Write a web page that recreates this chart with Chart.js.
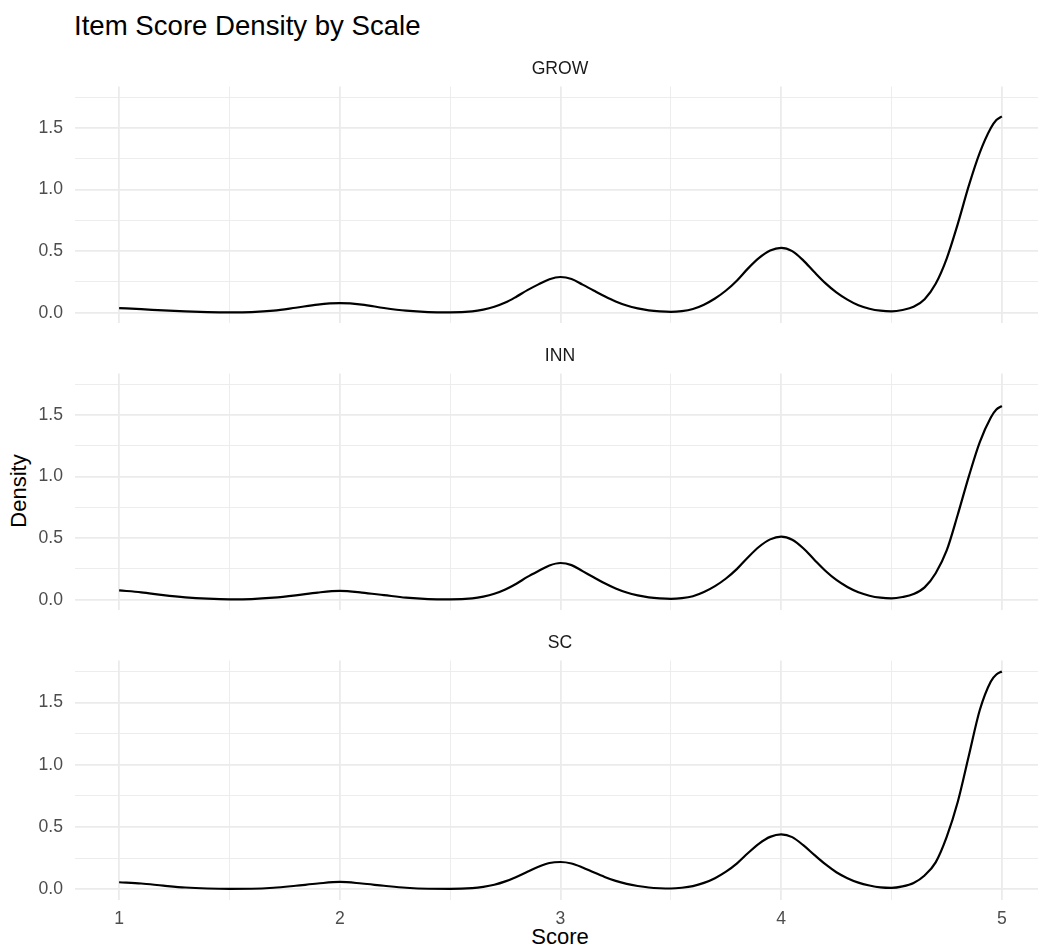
<!DOCTYPE html>
<html>
<head>
<meta charset="utf-8">
<title>Item Score Density by Scale</title>
<script src="https://cdn.jsdelivr.net/npm/chart.js@4.4.1/dist/chart.umd.min.js"></script>
<style>
  html, body { margin: 0; padding: 0; background: #ffffff; }
  #page {
    position: relative; width: 1038px; height: 951px; overflow: hidden;
    background: #ffffff; font-family: "Liberation Sans", Arial, sans-serif;
  }
  canvas.panel { position: absolute; left: 0; }
  .txt { position: absolute; line-height: 1; white-space: nowrap; }
  #title { left: 74px; top: 12px; font-size: 27.6px; color: #000000; }
  .strip { font-size: 17.6px; color: #1a1a1a; transform: translateX(-50%); }
  #xtitle { left: 560px; top: 926px; font-size: 22px; color: #000000; transform: translateX(-50%); }
  #ytitle {
    left: 19px; top: 491px; font-size: 22px; color: #000000;
    transform: translate(-50%, -50%) rotate(-90deg);
  }
</style>
</head>
<body>
<div id="page">
  <div id="title" class="txt">Item Score Density by Scale</div>
  <div id="xtitle" class="txt">Score</div>
  <div id="ytitle" class="txt">Density</div>
</div>
<script>
// Score grid the densities are evaluated on (finer where the curves bend)
const scores = [
  1.0, 1.1, 1.2, 1.3, 1.4, 1.5, 1.6, 1.7, 1.8, 1.9, 2.0, 2.1, 2.2, 2.3, 2.4, 2.5, 2.6,
  2.65, 2.7, 2.75, 2.8, 2.85, 2.9, 2.95, 3.0, 3.05, 3.1, 3.15, 3.2, 3.25, 3.3, 3.35, 3.4,
  3.45, 3.5, 3.55, 3.6, 3.65, 3.7, 3.75, 3.8, 3.85, 3.9, 3.95, 4.0, 4.05, 4.1, 4.15, 4.2,
  4.25, 4.3, 4.35, 4.4, 4.45, 4.5, 4.55, 4.6, 4.65, 4.7, 4.75, 4.8, 4.85, 4.9, 4.95, 4.975, 5.0
];

// Kernel density of item scores, one series per scale
const growDensity = [
  0.037, 0.029, 0.018, 0.010, 0.005, 0.003, 0.005, 0.016, 0.040, 0.066, 0.077, 0.066, 0.038, 0.016, 0.005, 0.003, 0.011,
  0.025, 0.048, 0.082, 0.130, 0.183, 0.230, 0.272, 0.290, 0.274, 0.228, 0.180, 0.133, 0.091, 0.058, 0.035, 0.019,
  0.010, 0.006, 0.012, 0.030, 0.065, 0.115, 0.180, 0.262, 0.360, 0.445, 0.505, 0.527, 0.500, 0.425, 0.330, 0.240,
  0.165, 0.106, 0.060, 0.032, 0.016, 0.011, 0.022, 0.048, 0.110, 0.235, 0.440, 0.720, 1.030, 1.300, 1.500, 1.565, 1.595
];
const innDensity = [
  0.075, 0.060, 0.037, 0.019, 0.008, 0.003, 0.005, 0.016, 0.035, 0.058, 0.071, 0.058, 0.037, 0.016, 0.005, 0.003, 0.011,
  0.025, 0.048, 0.083, 0.130, 0.185, 0.233, 0.278, 0.298, 0.281, 0.232, 0.182, 0.133, 0.091, 0.058, 0.035, 0.019,
  0.010, 0.006, 0.012, 0.028, 0.062, 0.110, 0.172, 0.250, 0.345, 0.430, 0.490, 0.513, 0.487, 0.418, 0.325, 0.235,
  0.160, 0.103, 0.060, 0.032, 0.016, 0.011, 0.022, 0.046, 0.100, 0.215, 0.400, 0.690, 1.000, 1.280, 1.480, 1.545, 1.574
];
const scDensity = [
  0.055, 0.045, 0.028, 0.013, 0.005, 0.002, 0.003, 0.011, 0.027, 0.045, 0.058, 0.045, 0.027, 0.011, 0.003, 0.002, 0.008,
  0.018, 0.035, 0.062, 0.098, 0.140, 0.180, 0.210, 0.218, 0.206, 0.174, 0.135, 0.098, 0.066, 0.042, 0.025, 0.013,
  0.007, 0.005, 0.011, 0.024, 0.050, 0.088, 0.140, 0.207, 0.290, 0.366, 0.420, 0.440, 0.418, 0.353, 0.275, 0.200,
  0.136, 0.088, 0.052, 0.029, 0.014, 0.010, 0.022, 0.050, 0.110, 0.215, 0.420, 0.700, 1.070, 1.440, 1.670, 1.725, 1.750
];

const scaleNames = ['GROW', 'INN', 'SC'];
const scaleSeries = [growDensity, innDensity, scDensity];

// Axis breaks: majors carry labels, halves/quarters are minor grid lines
const xBreaks = [1, 1.5, 2, 2.5, 3, 3.5, 4, 4.5, 5];
const yBreaks = [0, 0.25, 0.5, 0.75, 1, 1.25, 1.5, 1.75];
const xLimits = [0.8, 5.2];
const yLimits = [-0.0875, 1.8375];

// Panel geometry (pixels)
const PANEL_TOPS = [84, 371, 658];
const PANEL_H = 242;
const PAD = 20;
const AXIS_W = 75;
const XAXIS_H = 40;
const CANVAS_W = 1046;

const GRID = '#ebebeb';
const isMajor = (v, step) => Math.abs(v / step - Math.round(v / step)) < 1e-9;

const page = document.getElementById('page');

scaleNames.forEach((name, i) => {
  const showX = i === scaleNames.length - 1;
  const canvas = document.createElement('canvas');
  canvas.className = 'panel';
  const h = PAD + PANEL_H + (showX ? XAXIS_H : PAD);
  canvas.width = CANVAS_W;
  canvas.height = h;
  canvas.style.width = CANVAS_W + 'px';
  canvas.style.height = h + 'px';
  canvas.style.top = (PANEL_TOPS[i] - PAD) + 'px';
  page.appendChild(canvas);

  // facet strip label
  const strip = document.createElement('div');
  strip.className = 'txt strip';
  strip.textContent = name;
  strip.style.left = '560px';
  strip.style.top = (PANEL_TOPS[i] - 24) + 'px';
  page.appendChild(strip);

  const points = scores.map((s, k) => ({ x: s, y: scaleSeries[i][k] }));

  new Chart(canvas, {
    type: 'line',
    data: {
      datasets: [{
        label: name,
        data: points,
        borderColor: '#000000',
        borderWidth: 2.2,
        pointRadius: 0,
        pointHoverRadius: 0,
        fill: false,
        cubicInterpolationMode: 'monotone'
      }]
    },
    options: {
      responsive: false,
      maintainAspectRatio: false,
      animation: false,
      devicePixelRatio: 1,
      events: [],
      layout: { padding: { top: PAD, bottom: showX ? 0 : PAD, left: 0, right: 0 } },
      plugins: { legend: { display: false }, tooltip: { enabled: false }, title: { display: false } },
      scales: {
        x: {
          type: 'linear',
          min: xLimits[0],
          max: xLimits[1],
          afterBuildTicks: (scale) => { scale.ticks = xBreaks.map(v => ({ value: v })); },
          afterFit: (scale) => { scale.height = showX ? XAXIS_H : 0; },
          border: { display: false },
          grid: {
            color: GRID,
            drawTicks: false,
            lineWidth: (ctx) => (ctx.tick && isMajor(ctx.tick.value, 1)) ? 1.8 : 0.9
          },
          ticks: {
            display: showX,
            autoSkip: false,
            maxRotation: 0,
            padding: 9,
            color: '#4d4d4d',
            font: { family: '"Liberation Sans", Arial, sans-serif', size: 17.6 },
            callback: (v) => isMajor(v, 1) ? String(v) : ''
          }
        },
        y: {
          type: 'linear',
          min: yLimits[0],
          max: yLimits[1],
          afterBuildTicks: (scale) => { scale.ticks = yBreaks.map(v => ({ value: v })); },
          afterFit: (scale) => { scale.width = AXIS_W; },
          border: { display: false },
          grid: {
            color: GRID,
            drawTicks: false,
            lineWidth: (ctx) => (ctx.tick && isMajor(ctx.tick.value, 0.5)) ? 1.8 : 0.9
          },
          ticks: {
            autoSkip: false,
            padding: 12,
            color: '#4d4d4d',
            font: { family: '"Liberation Sans", Arial, sans-serif', size: 17.6 },
            callback: (v) => isMajor(v, 0.5) ? v.toFixed(1) : ''
          }
        }
      }
    }
  });
});
</script>
</body>
</html>
